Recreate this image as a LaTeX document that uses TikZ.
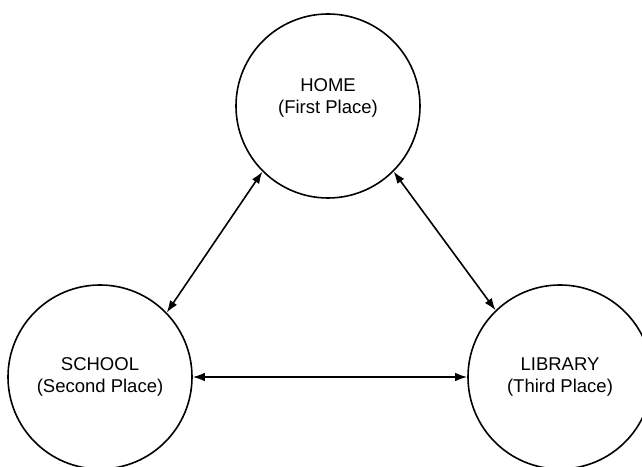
\documentclass[tikz,border=0pt]{standalone}
\usepackage{fontspec}
\setmainfont{Liberation Sans}
\usetikzlibrary{arrows.meta}

\tikzset{
	place/.style={draw, circle, line width=1.6pt, minimum size=184pt, inner sep=0pt, align=center, font=\fontsize{18.5}{22}\selectfont},
	placetext/.style={align=center, inner sep=0pt, font=\fontsize{18.5}{22}\selectfont},
	link/.style={{Latex[length=12pt,width=8.5pt]}-{Latex[length=12pt,width=8.5pt]}, line width=1.6pt}
}

\begin{document}
\begin{tikzpicture}[x=1pt, y=1pt]
		\useasboundingbox (0,0) rectangle (642,466);

		\node[place] (home) at (328,360) {};
		\node[placetext] (hometext) at ([yshift=8pt]home.center) {HOME\\(First Place)};
		\node[place] (school) at (100,89) {SCHOOL\\(Second Place)};
		\node[place] (library) at (560,89) {LIBRARY\\(Third Place)};

		\draw[link] (school.44) -- (home.225);
		\draw[link] (library.134) -- (home.315);
		\draw[link] (school.0) -- (library.180);
	\end{tikzpicture}
\end{document}
